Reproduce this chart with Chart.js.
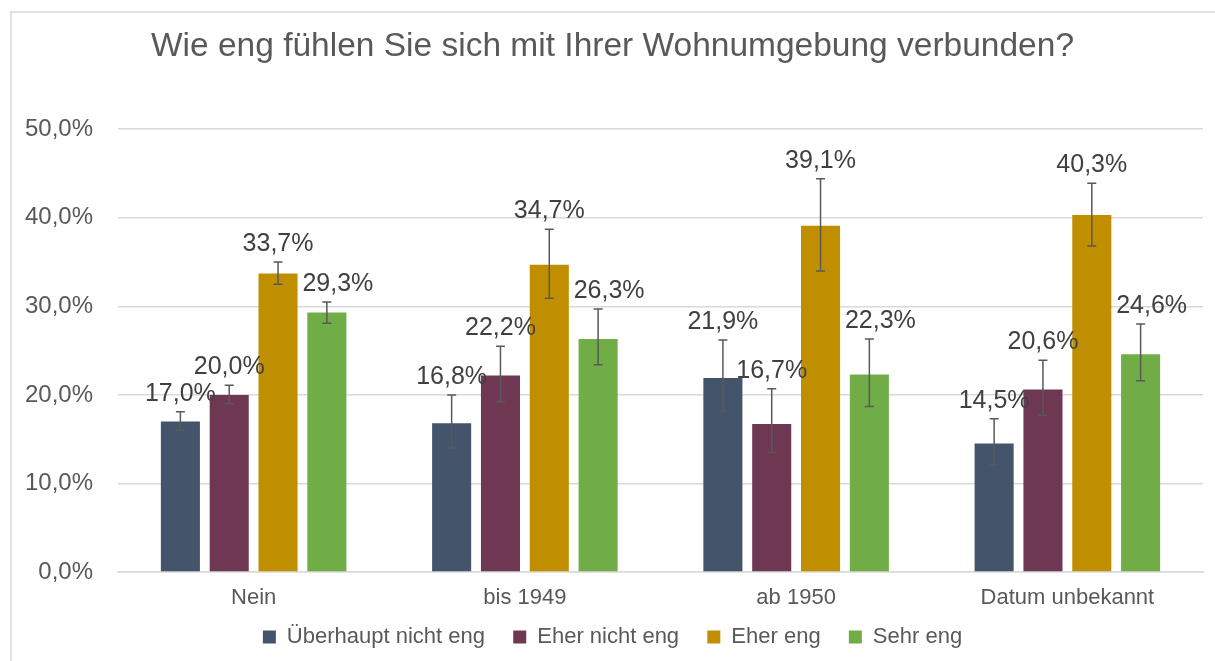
<!DOCTYPE html>
<html>
<head>
<meta charset="utf-8">
<script src="https://cdn.jsdelivr.net/npm/chart.js@4/dist/chart.umd.min.js"></script>
<style>
  html, body { margin: 0; padding: 0; background: #ffffff; }
  #wrap { position: relative; width: 1215px; height: 661px; }
</style>
</head>
<body>
<div id="wrap"><canvas id="c"></canvas></div>
<script>
const titleText = 'Wie eng fühlen Sie sich mit Ihrer Wohnumgebung verbunden?';
const categories = ['Nein', 'bis 1949', 'ab 1950', 'Datum unbekannt'];
const seriesNames = ['Überhaupt nicht eng', 'Eher nicht eng', 'Eher eng', 'Sehr eng'];
const yTicks = [0, 10, 20, 30, 40, 50];

const valUeberhaupt = [17.0, 16.8, 21.9, 14.5];
const valEherNicht  = [20.0, 22.2, 16.7, 20.6];
const valEherEng    = [33.7, 34.7, 39.1, 40.3];
const valSehrEng    = [29.3, 26.3, 22.3, 24.6];

const lowUeberhaupt  = [16.0, 14.0, 18.2, 12.1];
const highUeberhaupt = [18.1, 20.0, 26.2, 17.3];
const lowEherNicht   = [19.0, 19.2, 13.5, 17.7];
const highEherNicht  = [21.1, 25.5, 20.7, 23.9];
const lowEherEng     = [32.5, 30.9, 34.0, 36.8];
const highEherEng    = [35.0, 38.7, 44.4, 43.9];
const lowSehrEng     = [28.1, 23.4, 18.7, 21.6];
const highSehrEng    = [30.5, 29.7, 26.3, 28.0];

const FONT = "'Liberation Sans', Arial, sans-serif";
const TEXT = '#595959';
const colors = ['#44546A', '#6E3852', '#BF8F00', '#70AD47'];
const labelXShift = [0, 0, 0, 11];

const values = [valUeberhaupt, valEherNicht, valEherEng, valSehrEng];
const lows = [lowUeberhaupt, lowEherNicht, lowEherEng, lowSehrEng];
const highs = [highUeberhaupt, highEherNicht, highEherEng, highSehrEng];

const fmt = v => v.toFixed(1).replace('.', ',') + '%';

const frame = {
  id: 'frame',
  beforeDraw(chart) {
    const ctx = chart.ctx;
    ctx.save();
    ctx.strokeStyle = '#d9d9d9';
    ctx.lineWidth = 1.5;
    ctx.beginPath();
    ctx.moveTo(11, chart.height);
    ctx.lineTo(11, 12);
    ctx.lineTo(chart.width, 12);
    ctx.stroke();
    ctx.restore();
  }
};

const errorBars = {
  id: 'errorBars',
  afterDatasetsDraw(chart) {
    const ctx = chart.ctx;
    const ys = chart.scales.y;
    ctx.save();
    ctx.strokeStyle = '#595959';
    ctx.lineWidth = 1.5;
    chart.data.datasets.forEach((ds, di) => {
      const meta = chart.getDatasetMeta(di);
      meta.data.forEach((bar, i) => {
        const x = bar.x;
        const yLo = ys.getPixelForValue(lows[di][i]);
        const yHi = ys.getPixelForValue(highs[di][i]);
        ctx.beginPath();
        ctx.moveTo(x, yLo); ctx.lineTo(x, yHi);
        ctx.moveTo(x - 4.5, yLo); ctx.lineTo(x + 4.5, yLo);
        ctx.moveTo(x - 4.5, yHi); ctx.lineTo(x + 4.5, yHi);
        ctx.stroke();
      });
    });
    ctx.fillStyle = '#404040';
    ctx.font = '25px ' + FONT;
    ctx.textAlign = 'center';
    ctx.textBaseline = 'alphabetic';
    chart.data.datasets.forEach((ds, di) => {
      const meta = chart.getDatasetMeta(di);
      meta.data.forEach((bar, i) => {
        const yHi = ys.getPixelForValue(highs[di][i]);
        ctx.fillText(fmt(values[di][i]), bar.x + labelXShift[di], yHi - 11);
      });
    });
    ctx.restore();
  }
};

new Chart(document.getElementById('c'), {
  type: 'bar',
  data: {
    labels: categories,
    datasets: seriesNames.map((name, k) => ({
      label: name,
      data: values[k],
      backgroundColor: colors[k],
      borderWidth: 0,
      categoryPercentage: 0.72,
      barPercentage: 0.8
    }))
  },
  options: {
    responsive: true,
    maintainAspectRatio: false,
    animation: false,
    layout: { padding: { left: 22, top: 12, right: 12, bottom: 3 } },
    plugins: {
      title: {
        display: true,
        text: titleText,
        color: TEXT,
        font: { family: FONT, size: 33.5, weight: 'normal' },
        padding: { top: 15, bottom: 62 }
      },
      legend: {
        position: 'bottom',
        labels: {
          color: TEXT,
          boxWidth: 13,
          boxHeight: 13,
          padding: 16,
          font: { family: FONT, size: 22 },
          generateLabels(chart) {
            const items = Chart.defaults.plugins.legend.labels.generateLabels(chart);
            return items.map((item, i) =>
              Object.assign(item, { text: i < items.length - 1 ? item.text + '  ' : item.text }));
          }
        }
      },
      tooltip: { enabled: false }
    },
    scales: {
      x: {
        grid: { display: false },
        border: { color: '#d9d9d9', width: 1.5 },
        afterFit(s) { s.height = 38; },
        ticks: { color: TEXT, font: { family: FONT, size: 22 }, padding: 5 }
      },
      y: {
        min: 0,
        max: 50,
        afterFit(s) { s.width = 96; },
        afterBuildTicks(s) { s.ticks = yTicks.map(v => ({ value: v })); },
        ticks: {
          color: TEXT,
          padding: 25,
          font: { family: FONT, size: 24 },
          callback: v => fmt(v)
        },
        grid: { color: '#d9d9d9', lineWidth: 1.5, drawTicks: false },
        border: { display: false }
      }
    }
  },
  plugins: [frame, errorBars]
});
</script>
</body>
</html>
